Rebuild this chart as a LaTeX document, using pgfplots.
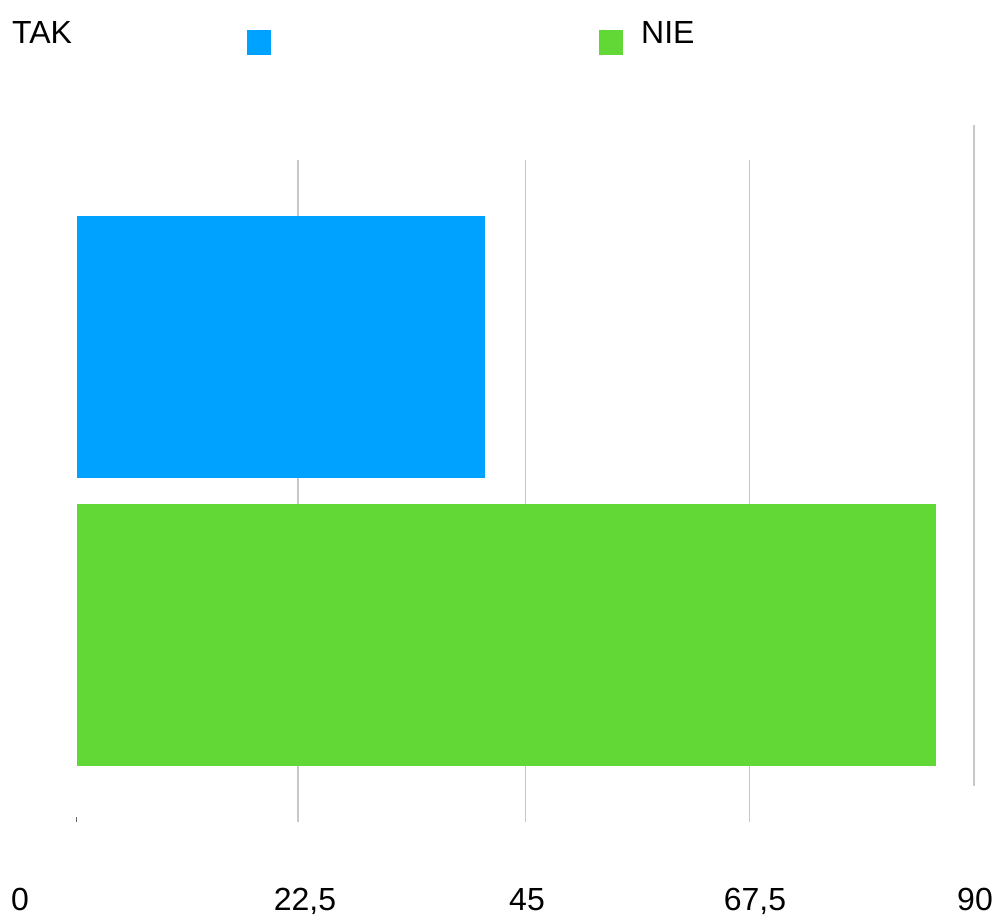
\documentclass[border=0pt]{standalone}
\usepackage{fontspec}
\setmainfont{Liberation Sans}
\usepackage{pgfplots}
\pgfplotsset{compat=1.18}
\definecolor{takblue}{HTML}{00A2FF}
\definecolor{niegreen}{HTML}{61D836}
\definecolor{gridgray}{HTML}{C8C8C8}
\pgfplotstableread{
y v
1 41
}\tak
\pgfplotstableread{
y v
0 86.2
}\nie
\begin{document}
\begin{tikzpicture}[x=1pt,y=1pt]
\useasboundingbox (0,0) rectangle (998,914);
\begin{axis}[
  at={(76.5pt,92pt)}, anchor=south west,
  scale only axis, width=897.5pt, height=662pt,
  xmin=0, xmax=90, ymin=-0.649, ymax=1.649,
  axis lines=none, ticks=none,
  xbar, bar width=0.91, bar shift=0pt,
  clip=false,
]
\draw[gridgray, line width=1.5pt] (axis cs:22.2,-0.649) -- (axis cs:22.2,1.649);
\draw[gridgray, line width=1.5pt] (axis cs:45,-0.649) -- (axis cs:45,1.649);
\draw[gridgray, line width=1.5pt] (axis cs:67.5,-0.649) -- (axis cs:67.5,1.649);
\draw[gridgray, line width=2pt] (axis cs:90,-0.524) -- (axis cs:90,1.771);
\addplot[fill=takblue, draw=none] table[x=v,y=y] {\tak};
\addplot[fill=niegreen, draw=none] table[x=v,y=y] {\nie};
\end{axis}
\fill[black!60] (75.5,92) rectangle (77,97);
% legend
\fontsize{32}{38}\selectfont
\node[anchor=base west, inner sep=0pt] at (12,870) {TAK};
\fill[takblue] (247,859) rectangle (271,884);
\fill[niegreen] (599,859) rectangle (623,884);
\node[anchor=base west, inner sep=0pt] at (641,870) {NIE};
% tick labels
\node[anchor=base, inner sep=0pt] at (20,4) {0};
\node[anchor=base, inner sep=0pt] at (305,4) {22,5};
\node[anchor=base, inner sep=0pt] at (527,4) {45};
\node[anchor=base, inner sep=0pt] at (755,4) {67,5};
\node[anchor=base, inner sep=0pt] at (975,4) {90};
\end{tikzpicture}
\end{document}
